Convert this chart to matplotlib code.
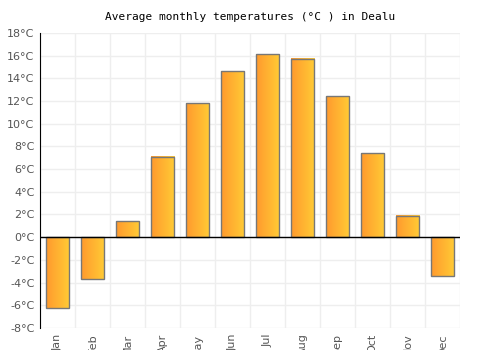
import numpy as np
import matplotlib.pyplot as plt
from matplotlib.colors import LinearSegmentedColormap

months = ['Jan', 'Feb', 'Mar', 'Apr', 'May', 'Jun', 'Jul', 'Aug', 'Sep', 'Oct', 'Nov', 'Dec']
temps = [-6.2, -3.7, 1.4, 7.1, 11.8, 14.6, 16.1, 15.7, 12.4, 7.4, 1.9, -3.4]
yticks = list(range(-8, 20, 2))

fig = plt.figure(figsize=(5, 3.5), dpi=100)
ax = fig.add_axes([0.08, 0.063, 0.84, 0.843])

x = np.arange(len(months))
w = 0.66
grad = np.linspace(0, 1, 64).reshape(1, -1)
cmap = LinearSegmentedColormap.from_list('og', ['#ff9a2e', '#ffcb35'])

# gradient fill per bar, outline drawn on top
for xi, t in zip(x, temps):
    ax.imshow(grad, extent=[xi - w/2, xi + w/2, 0, t], aspect='auto', cmap=cmap, zorder=2, origin='lower')
ax.bar(x, temps, width=w, facecolor='none', edgecolor='#777777', linewidth=1, zorder=3)

ax.set_xlim(-0.5, 11.5)
ax.set_ylim(-8, 18)
ax.set_yticks(yticks)
ax.set_yticklabels([f'{v}°C' for v in yticks])
ax.set_xticks(x)
ax.set_xticklabels(months, rotation=90)
ax.set_xticks(np.arange(-0.5, 12, 1), minor=True)
ax.grid(True, which='minor', axis='x', color='#eeeeee', linewidth=1)
ax.grid(True, which='major', axis='y', color='#eeeeee', linewidth=1)
ax.tick_params(axis='x', which='both', length=0, labelsize=8, labelcolor='#555555', pad=4)
ax.tick_params(axis='y', length=0, labelsize=8, labelcolor='#555555', pad=4)
ax.set_axisbelow(True)

for s in ['top', 'right', 'bottom']:
    ax.spines[s].set_visible(False)
ax.spines['left'].set_color('black')
ax.axhline(0, color='black', linewidth=1, zorder=4)

ax.set_title('Average monthly temperatures (°C ) in Dealu', fontsize=8, family='DejaVu Sans Mono', pad=9)

fig.savefig('out.png')
